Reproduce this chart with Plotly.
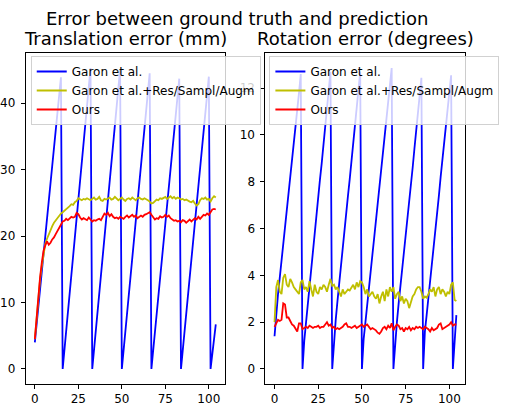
import plotly.graph_objects as go

# Frame index shared by every series
frames = list(range(105))

# Translation error (mm)
trans_garon = [
    4.0, 6.6, 9.3, 12.0, 14.6, 17.3, 20.0, 22.6, 25.3, 28.0, 30.6, 33.3, 36.0, 38.6, 41.3, 43.9,
    0.0, 2.8, 5.7, 8.5, 11.3, 14.2, 17.0, 19.8, 22.7, 25.5, 28.3, 31.1, 34.0, 36.8, 39.6, 42.5, 45.3,
    0.0, 2.8, 5.6, 8.5, 11.3, 14.1, 16.9, 19.7, 22.6, 25.4, 28.2, 31.0, 33.8, 36.6, 39.5, 42.3, 45.1,
    0.0, 2.8, 5.6, 8.3, 11.1, 13.9, 16.7, 19.5, 22.3, 25.0, 27.8, 30.6, 33.4, 36.2, 38.9, 41.7, 44.5,
    0.0, 2.7, 5.5, 8.2, 10.9, 13.7, 16.4, 19.1, 21.9, 24.6, 27.3, 30.0, 32.8, 35.5, 38.2, 41.0, 43.7,
    0.0, 2.75, 5.5, 8.25, 11.0, 13.75, 16.5, 19.25, 22.0, 24.75, 27.5, 30.25, 33.0, 35.75, 38.5, 41.25, 44.0,
    0.0, 2.2, 4.5, 6.7,
]
trans_garon_aug = [
    4.5, 8.0, 11.0, 13.5, 15.5, 17.5, 18.8, 19.6, 20.3, 20.9, 21.5, 22.0, 22.4, 22.8, 23.1, 23.4,
    23.6, 23.8, 24.1, 24.3, 24.5, 24.8, 24.7, 25.1, 25.3, 25.7, 25.5, 25.4, 25.6, 25.5, 25.7, 25.6,
    25.4, 25.6, 25.8, 25.5, 25.6, 25.9, 25.4, 25.3, 25.6, 25.5, 25.7, 25.8, 25.5, 25.6, 25.9, 25.7,
    25.4, 25.6, 25.8, 25.5, 25.3, 25.6, 25.7, 25.5, 25.8, 25.6, 25.4, 25.7, 25.8, 25.6, 25.5, 25.7,
    25.6, 25.4, 25.2, 24.9, 25.0, 25.3, 25.5, 25.4, 25.7, 25.6, 25.8, 25.9, 25.6, 25.8, 26.0, 25.7,
    25.9, 25.6, 25.8, 25.7, 25.5, 25.6, 25.4, 25.5, 25.3, 25.2, 25.1, 25.3, 24.9, 24.6, 24.8, 25.4,
    25.7, 25.6, 25.8, 25.5, 25.6, 25.2, 25.7, 26.0, 25.8,
]
trans_ours = [
    4.5, 8.0, 11.2, 13.8, 16.0, 17.8, 18.6, 19.2, 18.7, 19.0, 19.5, 19.8, 20.3, 20.8, 21.3, 21.9,
    22.2, 22.3, 22.6, 22.4, 22.7, 22.9, 22.8, 22.9, 23.5, 23.3, 22.8, 22.5, 22.7, 22.6, 22.4, 22.8,
    22.5, 22.2, 22.4, 22.3, 22.5, 22.6, 22.4, 22.8, 23.4, 23.2, 23.5, 23.0, 23.3, 22.9, 22.7, 22.8,
    22.6, 22.9, 22.8, 22.6, 22.9, 23.1, 22.8, 23.0, 23.2, 22.9, 23.1, 22.7, 22.9, 23.1, 22.9, 23.2,
    23.3, 23.4, 23.6, 23.2, 22.8, 22.5, 22.7, 22.6, 23.0, 22.8, 22.9, 23.2, 22.9, 23.1, 22.7, 22.5,
    22.3, 22.4, 22.2, 22.3, 22.1, 22.4, 22.3, 22.0, 22.3, 22.5, 22.2, 22.4, 22.7, 22.5, 22.9, 22.6,
    23.0, 23.2, 23.1, 23.4, 23.2, 23.7, 24.0, 24.1, 24.0,
]

# Rotation error (degrees)
rot_garon = [
    1.4, 2.5, 3.2, 3.9, 4.6, 5.3, 6.0, 6.7, 7.4, 8.1, 8.8, 9.5, 10.3, 11.1, 11.8, 12.6,
    0.0, 1.2, 2.0, 2.8, 3.6, 4.3, 5.0, 5.8, 6.5, 7.3, 8.1, 8.8, 9.6, 10.4, 11.1, 11.9, 12.7,
    0.0, 1.3, 2.1, 2.9, 3.7, 4.4, 5.2, 5.9, 6.6, 7.4, 8.1, 8.9, 9.6, 10.4, 11.1, 11.9, 12.7,
    0.0, 1.3, 2.0, 2.8, 3.5, 4.2, 4.9, 5.6, 6.3, 7.0, 7.7, 8.4, 9.2, 9.9, 10.6, 11.4, 12.1, 12.86,
    0.0, 1.2, 2.0, 2.8, 3.5, 4.2, 5.0, 5.7, 6.4, 7.2, 7.9, 8.6, 9.4, 10.1, 10.9, 11.7, 12.44,
    0.0, 1.6, 2.3, 3.0, 3.8, 4.5, 5.2, 6.0, 6.7, 7.4, 8.2, 8.9, 9.6, 10.4, 11.1, 11.8, 12.55,
    0.0, 1.2, 2.3,
]
rot_garon_aug = [
    2.0, 3.5, 3.8, 3.3, 3.2, 3.9, 4.05, 3.6, 3.5, 3.85, 3.7, 3.5, 3.4, 3.3, 3.2, 3.7,
    3.8, 3.4, 3.5, 3.3, 3.75, 3.4, 3.1, 3.6, 3.3, 3.2, 3.5, 3.4, 3.6, 3.5, 3.3, 3.6,
    3.85, 3.55, 3.6, 3.4, 3.5, 3.3, 3.1, 3.4, 3.2, 3.3, 3.4, 3.35, 3.5, 3.6, 3.4, 3.7,
    3.5, 3.75, 3.7, 3.5, 3.2, 3.4, 3.1, 3.2, 3.3, 3.1, 3.0, 3.2, 2.8, 3.1, 3.3, 2.9,
    3.4, 3.1, 3.5, 3.3, 3.5, 3.0, 3.2, 3.3, 2.9, 3.1, 2.8, 3.0, 2.9, 2.6, 2.9, 3.1,
    3.2, 3.4, 3.5, 3.5, 3.3, 3.0, 3.1, 3.05, 3.2, 3.4, 3.3, 3.5, 3.1, 3.4, 3.5, 3.2,
    3.4, 3.3, 3.1, 3.3, 3.2, 3.6, 3.7, 2.95, 2.9,
]
rot_ours = [
    1.8, 1.95, 2.1, 2.05, 2.1, 2.8, 2.75, 2.2, 2.2, 2.05, 1.9, 1.85, 1.7, 1.6, 1.95, 1.95,
    1.7, 1.75, 1.8, 1.75, 1.85, 1.8, 1.75, 1.8, 1.8, 1.85, 1.75, 1.8, 1.8, 1.9, 2.0, 1.85,
    1.9, 1.75, 1.8, 1.7, 1.75, 1.7, 1.75, 1.8, 1.9, 1.95, 1.8, 1.8, 1.75, 1.8, 1.85, 1.75,
    1.8, 1.85, 1.9, 1.8, 1.85, 1.9, 1.8, 1.7, 1.75, 1.7, 1.65, 1.55, 1.5, 1.6, 1.75, 1.8,
    1.7, 1.85, 1.75, 1.95, 1.65, 1.8, 1.9, 1.85, 1.7, 1.75, 1.6, 1.75, 1.7, 1.8, 1.65, 1.75,
    1.7, 1.8, 1.75, 1.8, 1.75, 1.7, 1.8, 1.75, 1.7, 1.6, 1.75, 1.65, 1.7, 1.75, 1.9, 1.95,
    1.7, 1.75, 1.8, 1.85, 1.9, 2.0, 1.85, 1.9, 1.9,
]

series_names = ["Garon et al.", "Garon et al.+Res/Sampl/Augm", "Ours"]
series_colors = ["#0000ff", "#bfbf00", "#ff0000"]

W, H = 511, 407
FONT = "DejaVu Sans"

fig = go.Figure()

panels = [
    ("x", "y", "legend", [trans_garon, trans_garon_aug, trans_ours]),
    ("x2", "y2", "legend2", [rot_garon, rot_garon_aug, rot_ours]),
]
for xa, ya, leg, data in panels:
    for name, color, vals in zip(series_names, series_colors, data):
        fig.add_trace(go.Scatter(
            x=frames, y=vals, mode="lines", name=name,
            line=dict(color=color, width=1.8),
            xaxis=xa, yaxis=ya, legend=leg,
        ))

def px_x(v):
    return v / W

def px_y(v):
    return 1 - v / H

axis_common = dict(
    showline=True, mirror=True, linecolor="black", linewidth=1,
    ticks="outside", ticklen=4, tickcolor="black", tickwidth=1,
    showgrid=False, zeroline=False,
    tickfont=dict(family=FONT, size=12, color="black"),
)

n = len(frames) - 1
xr = [-0.05 * n, n * 1.05]

def yrange(series):
    lo = min(min(s) for s in series)
    hi = max(max(s) for s in series)
    pad = 0.05 * (hi - lo)
    return [lo - pad, hi + pad]

legend_common = dict(
    bgcolor="rgba(255,255,255,0.8)", bordercolor="rgba(204,204,204,0.9)", borderwidth=1,
    font=dict(family=FONT, size=12, color="black"),
    xanchor="left", yanchor="top", tracegroupgap=0,
)

fig.update_layout(
    width=W, height=H,
    margin=dict(l=0, r=0, t=0, b=0),
    paper_bgcolor="white", plot_bgcolor="white",
    font=dict(family=FONT, color="black"),
    xaxis=dict(domain=[px_x(21), px_x(222)], range=xr, tickvals=[0, 25, 50, 75, 100],
               anchor="y", **axis_common),
    yaxis=dict(domain=[px_y(384), px_y(53)], range=yrange(panels[0][3]),
               tickvals=[0, 10, 20, 30, 40], anchor="x", ticklabelstandoff=3, **axis_common),
    xaxis2=dict(domain=[px_x(263), px_x(465)], range=xr, tickvals=[0, 25, 50, 75, 100],
                anchor="y2", **axis_common),
    yaxis2=dict(domain=[px_y(384), px_y(53)], range=yrange(panels[1][3]),
                tickvals=[0, 2, 4, 6, 8, 10, 12], anchor="x2", ticklabelstandoff=3, **axis_common),
    legend=dict(x=px_x(26), y=px_y(56), **legend_common),
    legend2=dict(x=px_x(267), y=px_y(56), **legend_common),
    showlegend=True,
)

titles = [
    ("Error between ground truth and prediction", 235, 18),
    ("Translation error (mm)", 121.5, 39),
    ("Rotation error (degrees)", 364, 39),
]
for text, cx, cy in titles:
    fig.add_annotation(
        text=text, x=px_x(cx), y=px_y(cy), xref="paper", yref="paper",
        xanchor="center", yanchor="middle", showarrow=False,
        font=dict(family=FONT, size=18, color="black"),
    )

fig.write_html("out.html")
